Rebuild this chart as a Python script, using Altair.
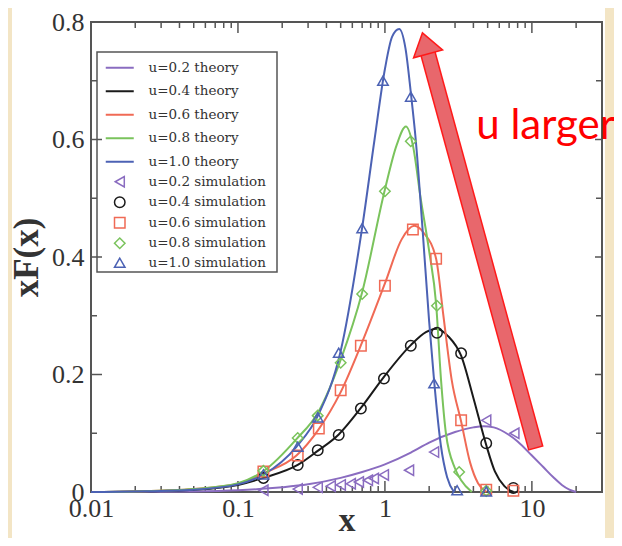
import altair as alt
import pandas as pd

# ---------------- data ----------------
LABELS_TH = ["u=0.2 theory", "u=0.4 theory", "u=0.6 theory", "u=0.8 theory", "u=1.0 theory"]
LABELS_SIM = ["u=0.2 simulation", "u=0.4 simulation", "u=0.6 simulation",
              "u=0.8 simulation", "u=1.0 simulation"]
COLORS = ["#8a6cc0", "#1a1a1a", "#f06a55", "#7ac35c", "#4c62b4"]
SHAPES = ["triangle-left", "circle", "square", "diamond", "triangle-up"]

# theory curves
TH_X_02 = [0.01, 0.02, 0.05, 0.1, 0.2, 0.3, 0.5, 0.7, 1, 1.5, 2, 3, 4, 4.7, 5.5, 7, 8, 10, 12, 14, 16, 18, 20]
TH_Y_02 = [0, 0.0003, 0.001, 0.003, 0.008, 0.013, 0.024, 0.034, 0.047, 0.067, 0.084, 0.102, 0.11,
           0.112, 0.11, 0.097, 0.086, 0.062, 0.042, 0.025, 0.012, 0.004, 0]
TH_X_04 = [0.01, 0.02, 0.05, 0.1, 0.149, 0.255, 0.349, 0.485, 0.686, 0.985, 1.5, 1.9, 2.23, 2.7,
           3.3, 4.0, 4.89, 5.6, 6.5, 7.5]
TH_Y_04 = [0, 0.001, 0.004, 0.012, 0.024, 0.046, 0.07, 0.098, 0.143, 0.196, 0.25, 0.272, 0.278,
           0.265, 0.232, 0.16, 0.08, 0.035, 0.01, 0]
TH_X_06 = [0.01, 0.02, 0.05, 0.1, 0.15, 0.25, 0.35, 0.5, 0.7, 1.0, 1.3, 1.58, 1.85, 2.23, 2.5,
           2.85, 3.3, 3.8, 4.3, 4.9]
TH_Y_06 = [0, 0.001, 0.005, 0.014, 0.032, 0.062, 0.105, 0.17, 0.255, 0.355, 0.43, 0.453, 0.44,
           0.397, 0.3, 0.19, 0.12, 0.05, 0.015, 0]
TH_X_08 = [0.01, 0.02, 0.05, 0.1, 0.15, 0.25, 0.35, 0.5, 0.7, 1.0, 1.2, 1.39, 1.55, 1.75, 2.0,
           2.23, 2.41, 2.6, 3.0, 3.3, 3.9]
TH_Y_08 = [0, 0.001, 0.005, 0.015, 0.036, 0.09, 0.135, 0.225, 0.34, 0.515, 0.59, 0.622, 0.59,
           0.5, 0.41, 0.32, 0.19, 0.1, 0.04, 0.02, 0]
TH_X_10 = [0.01, 0.02, 0.05, 0.1, 0.15, 0.25, 0.35, 0.5, 0.7, 0.85, 1.0, 1.12, 1.25, 1.38, 1.5,
           1.62, 1.8, 2.0, 2.16, 2.4, 2.65, 2.95]
TH_Y_10 = [0, 0.001, 0.004, 0.013, 0.03, 0.077, 0.13, 0.24, 0.45, 0.6, 0.72, 0.775, 0.788, 0.755,
           0.68, 0.6, 0.45, 0.29, 0.19, 0.08, 0.025, 0]

# simulation points
SIM_X_02 = [0.149, 0.255, 0.349, 0.428, 0.501, 0.586, 0.665, 0.766, 0.841, 0.984, 1.459, 2.16, 4.89, 7.6]
SIM_Y_02 = [0.003, 0.005, 0.008, 0.01, 0.012, 0.014, 0.017, 0.02, 0.023, 0.029, 0.037, 0.068, 0.122, 0.10]
SIM_X_04 = [0.149, 0.255, 0.349, 0.485, 0.686, 0.985, 1.5, 2.26, 3.3, 4.89, 7.48]
SIM_Y_04 = [0.024, 0.046, 0.071, 0.097, 0.142, 0.193, 0.249, 0.271, 0.236, 0.083, 0.007]
SIM_X_06 = [0.149, 0.255, 0.355, 0.5, 0.686, 1.0, 1.55, 2.23, 3.3, 4.89, 7.48]
SIM_Y_06 = [0.035, 0.062, 0.108, 0.173, 0.249, 0.351, 0.447, 0.397, 0.122, 0.004, 0.002]
SIM_X_08 = [0.149, 0.255, 0.349, 0.5, 0.70, 1.0, 1.5, 2.26, 3.2, 4.89]
SIM_Y_08 = [0.036, 0.092, 0.13, 0.22, 0.337, 0.512, 0.597, 0.317, 0.034, 0.002]
SIM_X_10 = [0.149, 0.255, 0.349, 0.485, 0.70, 0.97, 1.5, 2.16, 3.1, 4.89]
SIM_Y_10 = [0.03, 0.077, 0.127, 0.237, 0.449, 0.70, 0.673, 0.185, 0.003, 0.001]

# axis ticks
X_LABELS = [0.01, 0.1, 1, 10]
X_MINOR = [0.02, 0.03, 0.04, 0.05, 0.06, 0.07, 0.08, 0.09,
           0.2, 0.3, 0.4, 0.5, 0.6, 0.7, 0.8, 0.9,
           2, 3, 4, 5, 6, 7, 8, 9, 20]
Y_LABELS = [0, 0.2, 0.4, 0.6, 0.8]
Y_MINOR = [0.1, 0.3, 0.5, 0.7]

# annotation (arrow and text), in data coordinates
ARROW_X = [10.58, 1.966]
ARROW_Y = [0.0763, 0.7458]
ARROW_OUT_X = [10.65, 1.966]
ARROW_OUT_Y = [0.0737, 0.7458]
HEAD_X = [1.913]
HEAD_Y = [0.7568]
NOTE_X = [4.18]
NOTE_Y = [0.6017]
NOTE_TEXT = ["u larger"]

# ---------------- build tables ----------------
th_x = [TH_X_02, TH_X_04, TH_X_06, TH_X_08, TH_X_10]
th_y = [TH_Y_02, TH_Y_04, TH_Y_06, TH_Y_08, TH_Y_10]
sim_x = [SIM_X_02, SIM_X_04, SIM_X_06, SIM_X_08, SIM_X_10]
sim_y = [SIM_Y_02, SIM_Y_04, SIM_Y_06, SIM_Y_08, SIM_Y_10]

th_rows = []
for lab, xs_, ys_ in zip(LABELS_TH, th_x, th_y):
    for a, b in zip(xs_, ys_):
        th_rows.append({"x": a, "y": b, "label": lab})
th_df = pd.DataFrame(th_rows)

sim_rows = []
for lab, xs_, ys_ in zip(LABELS_SIM, sim_x, sim_y):
    for a, b in zip(xs_, ys_):
        sim_rows.append({"x": a, "y": b, "label": lab})
sim_df = pd.DataFrame(sim_rows)

W, H = 511, 470
TOP = 14
BG = "#f3e5c5"
AX = "#555555"
TXT = "#333333"
PINK = "#e8676c"
RED = "#ff1a1a"

xs = alt.Scale(type="log", domain=[0.01, 30], nice=False)
ys = alt.Scale(domain=[0, 0.8], nice=False, zero=False)

xaxis = alt.Axis(values=X_LABELS, format="~g", labelFlush=False, labelOverlap=False,
                 ticks=False, domain=False, grid=False,
                 labelFont="Liberation Serif", labelFontSize=26, labelColor=TXT, labelPadding=3,
                 title="x", titleFont="Liberation Serif", titleFontSize=34, titleFontWeight="bold",
                 titleColor=TXT, titleX=W / 2, titleY=38, titleBaseline="alphabetic",
                 titleAlign="center", zindex=1)
yaxis = alt.Axis(values=Y_LABELS, format="~g", labelOverlap=False,
                 ticks=False, domain=False, grid=False,
                 labelFont="Liberation Serif", labelFontSize=26, labelColor=TXT, labelPadding=7,
                 title="xF(x)", titleFont="Liberation Serif", titleFontSize=35, titleFontWeight="bold",
                 titleColor=TXT, titleAngle=270, titleX=-54, titleY=H / 2,
                 titleBaseline="alphabetic", titleAlign="center", zindex=1)

X = lambda f="x": alt.X(f"{f}:Q", scale=xs, axis=xaxis)
Y = lambda f="y": alt.Y(f"{f}:Q", scale=ys, axis=yaxis)

dummy = pd.DataFrame({"d": [0]})

panel = alt.Chart(dummy).mark_rect(fill="white").encode(
    x=alt.value(-79), x2=alt.value(514), y=alt.value(-14), y2=alt.value(523))

legend_box = alt.Chart(dummy).mark_rect(fill="white", stroke=AX, strokeWidth=1.5).encode(
    x=alt.value(6), x2=alt.value(186), y=alt.value(30), y2=alt.value(250))

frame = alt.Chart(dummy).mark_rect(fill="transparent", stroke=AX, strokeWidth=2).encode(
    x=alt.value(0), x2=alt.value(W), y=alt.value(0), y2=alt.value(H))

def xticks(vals, length):
    d = pd.DataFrame({"x": vals})
    bottom = alt.Chart(d).mark_rule(color=AX, strokeWidth=1.5).encode(
        x=X(), y=alt.value(H), y2=alt.value(H - length))
    top = alt.Chart(d).mark_rule(color=AX, strokeWidth=1.5).encode(
        x=X(), y=alt.value(0), y2=alt.value(length))
    return [bottom, top]

def yticks(vals, length, rlength):
    d = pd.DataFrame({"y": vals})
    left = alt.Chart(d).mark_rule(color=AX, strokeWidth=1.5).encode(
        y=Y(), x=alt.value(0), x2=alt.value(length))
    right = alt.Chart(d).mark_rule(color=AX, strokeWidth=1.5).encode(
        y=Y(), x=alt.value(W), x2=alt.value(W - rlength))
    return [left, right]

ticks = xticks(X_LABELS, 11) + xticks(X_MINOR, 6) + yticks(Y_LABELS, 11, 7) + yticks(Y_MINOR, 6, 6)

leg_th = alt.Legend(title=None, orient="none", legendX=22, legendY=39, padding=0,
                    symbolType="M-2.8,0H2.8", symbolSize=100, symbolStrokeWidth=2,
                    labelFont="DejaVu Serif", labelFontSize=13.5, labelColor=TXT,
                    labelOffset=22, rowPadding=8.5, labelLimit=300)
leg_sim = alt.Legend(title=None, orient="none", legendX=22, legendY=153, padding=0,
                     symbolSize=110, symbolStrokeWidth=1.5, symbolFillColor="transparent",
                     labelFont="DejaVu Serif", labelFontSize=13.5, labelColor=TXT,
                     labelOffset=22, rowPadding=3.5, labelLimit=300)

lines = alt.Chart(th_df).mark_line(interpolate="monotone", strokeWidth=2).encode(
    x=X(), y=Y(),
    color=alt.Color("label:N", scale=alt.Scale(domain=LABELS_TH, range=COLORS), legend=leg_th))

points = alt.Chart(sim_df).mark_point(filled=False, size=110, strokeWidth=1.5, opacity=1).encode(
    x=X(), y=Y(),
    stroke=alt.Stroke("label:N", scale=alt.Scale(domain=LABELS_SIM, range=COLORS), legend=leg_sim),
    shape=alt.Shape("label:N", scale=alt.Scale(domain=LABELS_SIM, range=SHAPES), legend=leg_sim))

arrow_df = pd.DataFrame({"x": [ARROW_X[0]], "x2": [ARROW_X[1]], "y": [ARROW_Y[0]], "y2": [ARROW_Y[1]]})
arrow_out_df = pd.DataFrame({"x": [ARROW_OUT_X[0]], "x2": [ARROW_OUT_X[1]],
                             "y": [ARROW_OUT_Y[0]], "y2": [ARROW_OUT_Y[1]]})
arrow_outer = alt.Chart(arrow_out_df).mark_rule(color=RED, strokeWidth=16, strokeCap="butt").encode(
    x=X(), x2="x2:Q", y=Y(), y2="y2:Q")
arrow_inner = alt.Chart(arrow_df).mark_rule(color=PINK, strokeWidth=13, strokeCap="butt").encode(
    x=X(), x2="x2:Q", y=Y(), y2="y2:Q")
head = alt.Chart(pd.DataFrame({"x": HEAD_X, "y": HEAD_Y})).mark_point(
    shape="M0,-1L1,0.45L-1,0.45Z", size=900, angle=345, filled=True,
    fill=PINK, stroke=RED, strokeWidth=1.5, opacity=1, fillOpacity=1).encode(x=X(), y=Y())

note = alt.Chart(pd.DataFrame({"x": NOTE_X, "y": NOTE_Y, "t": NOTE_TEXT})).mark_text(
    font="Lato", fontSize=42, color="#ff0000", align="left", baseline="alphabetic").encode(
    x=X(), y=Y(), text="t:N")

chart = alt.layer(
    panel, legend_box, *ticks, frame, lines, points, arrow_outer, arrow_inner, head, note
).resolve_scale(color="independent", stroke="independent", shape="independent").properties(
    width=W, height=H, background=BG,
    padding={"left": 83, "top": TOP, "right": 12, "bottom": 530 - TOP - H},
    autosize=alt.AutoSizeParams(type="none"),
).configure_view(stroke=None)

chart.save("out.html", embed_options={"renderer": "svg", "actions": False})
